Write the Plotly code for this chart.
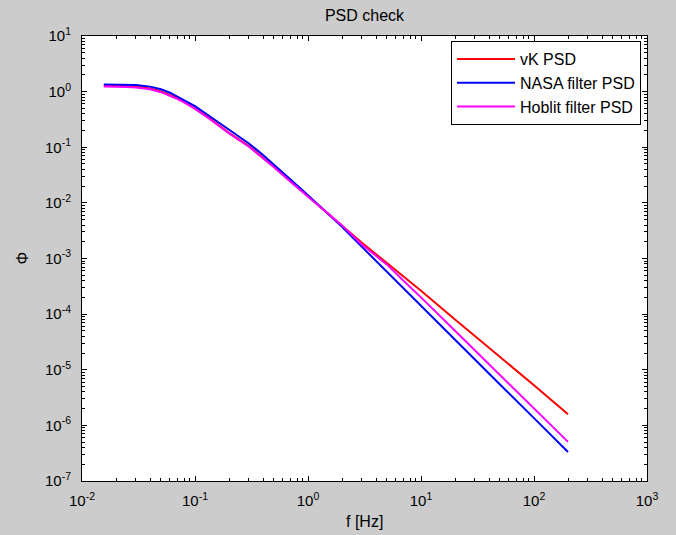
import plotly.graph_objects as go

# frequency grid [Hz]
freq = [0.0156, 0.02, 0.025, 0.03, 0.04, 0.05, 0.06, 0.07, 0.08, 0.1, 0.13, 0.15,
        0.2, 0.3, 0.4, 0.5, 0.7, 1, 1.5, 2, 3, 5, 7, 10, 20, 50, 100, 200]

vk_psd = [1.27, 1.27, 1.26, 1.23, 1.135, 1.01, 0.88, 0.76, 0.653, 0.50, 0.347, 0.279,
          0.182, 0.105, 0.066, 0.0447, 0.0245, 0.0132, 0.0066, 0.00398, 0.00191,
          8.3e-4, 4.79e-4, 2.63e-4, 8.04e-5, 1.72e-5, 5.25e-6, 1.58e-6]

nasa_psd = [1.35, 1.35, 1.34, 1.32, 1.23, 1.10, 0.955, 0.81, 0.71, 0.55, 0.38, 0.31,
            0.204, 0.117, 0.0724, 0.049, 0.0263, 0.01365, 0.00646, 0.00372, 0.00162,
            5.75e-4, 2.82e-4, 1.365e-4, 3.39e-5, 5.43e-6, 1.35e-6, 3.31e-7]

hoblit_psd = [1.23, 1.23, 1.216, 1.19, 1.10, 0.977, 0.851, 0.733, 0.638, 0.49, 0.339, 0.272,
              0.178, 0.102, 0.0646, 0.0437, 0.024, 0.01303, 0.00653, 0.00394, 0.00178,
              7.76e-4, 3.98e-4, 2.0e-4, 5.01e-5, 7.94e-6, 2.0e-6, 5.05e-7]

series_names = ["vK PSD", "NASA filter PSD", "Hoblit filter PSD"]
series_colors = ["#ff0000", "#0000ff", "#ff00ff"]

x_exps = [-2, -1, 0, 1, 2, 3]
y_exps = [-7, -6, -5, -4, -3, -2, -1, 0, 1]

FONT = "Liberation Sans, Arial, Helvetica, sans-serif"

fig = go.Figure()
for name, ys, col in zip(series_names, [vk_psd, nasa_psd, hoblit_psd], series_colors):
    fig.add_trace(go.Scatter(x=freq, y=ys, mode="lines", name=name,
                             line=dict(color=col, width=2)))

def minor_vals(exps):
    return [m * 10.0 ** e for e in exps[:-1] for m in range(2, 10)]

axis_common = dict(
    type="log", showgrid=False, zeroline=False,
    showline=True, linecolor="black", linewidth=1, mirror="ticks",
    ticks="inside", ticklen=5, tickcolor="black", tickwidth=1,
    tickfont=dict(family=FONT, size=15, color="black"),
)

fig.update_xaxes(
    **axis_common,
    range=[-2, 3],
    tickmode="array",
    tickvals=[10.0 ** e for e in x_exps],
    ticktext=["10<sup>%d</sup>" % e for e in x_exps],
    minor=dict(ticks="inside", ticklen=3, tickcolor="black", tickwidth=1,
               tickmode="array", tickvals=minor_vals(x_exps), showgrid=False),
    ticklabelstandoff=6,
)
fig.update_yaxes(
    **axis_common,
    range=[-7, 1],
    tickmode="array",
    tickvals=[10.0 ** e for e in y_exps],
    ticktext=["10<sup>%d</sup>" % e for e in y_exps],
    minor=dict(ticks="inside", ticklen=3, tickcolor="black", tickwidth=1,
               tickmode="array", tickvals=minor_vals(y_exps), showgrid=False),
    ticklabelstandoff=7,
)

fig.update_layout(
    width=676, height=535,
    margin=dict(l=82, r=29, t=36, b=54, autoexpand=False),
    paper_bgcolor="#cccccc", plot_bgcolor="white",
    font=dict(family=FONT, size=16, color="black"),
    title=dict(text="PSD check", x=0.5, xref="paper", y=1 - 15 / 535,
               yanchor="middle", xanchor="center",
               font=dict(family=FONT, size=16, color="black")),
    showlegend=True,
    legend=dict(x=(451 - 82) / 565, y=1 - (41 - 36) / 445, xanchor="left", yanchor="top",
                bgcolor="white", bordercolor="black", borderwidth=1,
                font=dict(family=FONT, size=16, color="black"),
                itemwidth=58),
    annotations=[
        dict(text="f [Hz]", xref="paper", yref="paper", x=0.5, y=-(521 - 481) / 445,
             xanchor="center", yanchor="middle", showarrow=False,
             font=dict(family=FONT, size=16, color="black")),
        dict(text="Φ", xref="paper", yref="paper", x=-(82 - 22) / 565, y=0.5,
             xanchor="center", yanchor="middle", showarrow=False, textangle=-90,
             font=dict(family=FONT, size=16, color="black")),
    ],
)

fig.write_html("out.html")
